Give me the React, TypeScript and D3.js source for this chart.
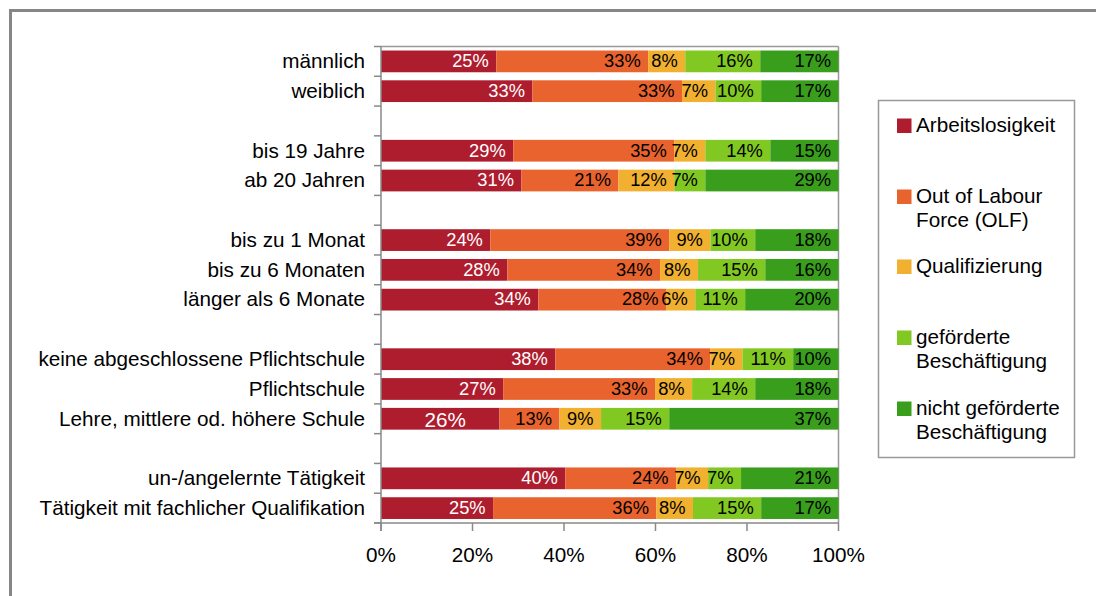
import React from "react";
import * as d3 from "d3";

const categories: string[] = [
  "männlich",
  "weiblich",
  "",
  "bis 19 Jahre",
  "ab 20 Jahren",
  "",
  "bis zu 1 Monat",
  "bis zu 6 Monaten",
  "länger als 6 Monate",
  "",
  "keine abgeschlossene Pflichtschule",
  "Pflichtschule",
  "Lehre, mittlere od. höhere Schule",
  "",
  "un-/angelernte Tätigkeit",
  "Tätigkeit mit fachlicher Qualifikation",
];

const seriesNames: string[] = [
  "Arbeitslosigkeit",
  "Out of Labour Force (OLF)",
  "Qualifizierung",
  "geförderte Beschäftigung",
  "nicht geförderte Beschäftigung",
];

const legendLines: string[][] = [
  ["Arbeitslosigkeit"],
  ["Out of Labour", "Force (OLF)"],
  ["Qualifizierung"],
  ["geförderte", "Beschäftigung"],
  ["nicht geförderte", "Beschäftigung"],
];

const colors: string[] = ["#AE1D2E", "#E8632D", "#F1B02F", "#82C823", "#389E1C"];

// values in percent per series (null = empty slot)
const arbeitslosigkeit: (number | null)[] = [25.2, 33.1, null, 28.9, 30.7, null, 23.9, 27.6, 34.4, null, 38.1, 26.7, 25.9, null, 40.3, 24.5];
const olf: (number | null)[] = [33.2, 32.7, null, 35.2, 21.2, null, 39.1, 33.4, 27.9, null, 33.9, 33.2, 13.1, null, 24.2, 35.7];
const qualifizierung: (number | null)[] = [8.1, 7.3, null, 6.8, 12.2, null, 9.0, 8.3, 6.4, null, 7.0, 8.1, 9.1, null, 7.0, 8.0];
const gefoerdert: (number | null)[] = [16.4, 10.0, null, 14.2, 6.8, null, 9.8, 14.7, 10.9, null, 11.1, 13.8, 14.9, null, 7.2, 14.9];
const nichtGefoerdert: (number | null)[] = [17.1, 16.9, null, 14.9, 29.1, null, 18.2, 16.0, 20.4, null, 9.9, 18.2, 37.0, null, 21.3, 16.9];

// displayed labels
const labelsArbeitslosigkeit: string[] = ["25%", "33%", "", "29%", "31%", "", "24%", "28%", "34%", "", "38%", "27%", "26%", "", "40%", "25%"];
const labelsOlf: string[] = ["33%", "33%", "", "35%", "21%", "", "39%", "34%", "28%", "", "34%", "33%", "13%", "", "24%", "36%"];
const labelsQualifizierung: string[] = ["8%", "7%", "", "7%", "12%", "", "9%", "8%", "6%", "", "7%", "8%", "9%", "", "7%", "8%"];
const labelsGefoerdert: string[] = ["16%", "10%", "", "14%", "7%", "", "10%", "15%", "11%", "", "11%", "14%", "15%", "", "7%", "15%"];
const labelsNichtGefoerdert: string[] = ["17%", "17%", "", "15%", "29%", "", "18%", "16%", "20%", "", "10%", "18%", "37%", "", "21%", "17%"];

const xTicks: number[] = [0, 20, 40, 60, 80, 100];

const FONT = "'Liberation Sans', Arial, sans-serif";

export default function App() {
  const seriesValues = [arbeitslosigkeit, olf, qualifizierung, gefoerdert, nichtGefoerdert];
  const seriesLabels = [labelsArbeitslosigkeit, labelsOlf, labelsQualifizierung, labelsGefoerdert, labelsNichtGefoerdert];

  const left = 381;
  const right = 838.5;
  const top = 46.5;
  const bottom = 523;

  const slots = categories.map((_, i) => String(i));
  const x = d3.scaleLinear().domain([0, 100]).range([left, right]);
  const y = d3.scaleBand<string>().domain(slots).range([top, bottom]).paddingInner(0.27).paddingOuter(0.135);

  const rows = categories.map((c, i) => {
    const vals = seriesValues.map((s) => s[i]);
    const hasData = vals.every((v) => v !== null);
    const total = hasData ? d3.sum(vals as number[]) : 0;
    let acc = 0;
    const segs = hasData
      ? (vals as number[]).map((v, k) => {
          const x0 = (acc / total) * 100;
          acc += v;
          const x1 = (acc / total) * 100;
          return { k, x0, x1, label: seriesLabels[k][i] };
        })
      : [];
    return { c, i, segs };
  });

  const tickYs = d3.range(slots.length + 1).map((j) => top + (j * (bottom - top)) / slots.length);

  const legendX = 878.5;
  const legendY = 100.5;
  const legendW = 196;
  const legendH = 357;
  const legendFirstBaselines = [132, 203, 273, 344, 415];
  const lineH = 23.5;
  const FS = 20.7;

  return (
    <svg
      width={1096}
      height={596}
      style={{ position: "fixed", left: 0, top: 0, background: "#fff" }}
      fontFamily={FONT}
    >
      <rect x={0} y={0} width={1096} height={596} fill="#fff" />
      <rect x={10.5} y={10.5} width={3000} height={3000} fill="none" stroke="#868686" strokeWidth={3} />

      {/* plot border top & right */}
      <line x1={left} x2={right} y1={top} y2={top} stroke="#999" strokeWidth={1.5} />
      <line x1={right} x2={right} y1={top} y2={bottom} stroke="#999" strokeWidth={1.5} />

      {/* bars */}
      {rows.map((r) =>
        r.segs.map((s) => (
          <rect
            key={`b${r.i}-${s.k}`}
            x={x(s.x0)}
            y={y(String(r.i))}
            width={x(s.x1) - x(s.x0)}
            height={y.bandwidth()}
            fill={colors[s.k]}
          />
        ))
      )}

      {/* data labels */}
      {rows.map((r) =>
        r.segs.map((s) => {
          const cy = (y(String(r.i)) as number) + y.bandwidth() / 2;
          const special = s.k === 0 && r.c.startsWith("Lehre");
          if (special) {
            return (
              <text
                key={`l${r.i}-${s.k}`}
                x={(x(s.x0) + x(s.x1)) / 2 + 5}
                y={cy + 8.5}
                textAnchor="middle"
                fontSize={FS}
                fill="#fff"
              >
                {s.label}
              </text>
            );
          }
          return (
            <text
              key={`l${r.i}-${s.k}`}
              x={x(s.x1) - 7.5}
              y={cy + 5.8}
              textAnchor="end"
              fontSize={18.3}
              fill={s.k === 0 ? "#fff" : "#000"}
            >
              {s.label}
            </text>
          );
        })
      )}

      {/* y axis */}
      <line x1={left} x2={left} y1={top} y2={bottom + 8} stroke="#888" strokeWidth={1.5} />
      {tickYs.map((ty, j) => (
        <line key={`yt${j}`} x1={left - 7} x2={left} y1={ty} y2={ty} stroke="#888" strokeWidth={1.5} />
      ))}
      {rows.map((r) =>
        r.c ? (
          <text
            key={`c${r.i}`}
            x={365}
            y={(y(String(r.i)) as number) + y.bandwidth() / 2 + 6.8}
            textAnchor="end"
            fontSize={FS}
            fill="#000"
          >
            {r.c}
          </text>
        ) : null
      )}

      {/* x axis */}
      <line x1={left - 7} x2={right} y1={bottom} y2={bottom} stroke="#888" strokeWidth={1.5} />
      {xTicks.map((t) => (
        <g key={`xt${t}`}>
          <line x1={x(t)} x2={x(t)} y1={bottom} y2={bottom + 8} stroke="#888" strokeWidth={1.5} />
          <text x={x(t)} y={562} textAnchor="middle" fontSize={FS} fill="#000">
            {`${t}%`}
          </text>
        </g>
      ))}

      {/* legend */}
      <rect x={legendX} y={legendY} width={legendW} height={legendH} fill="#fff" stroke="#999" strokeWidth={1.5} />
      {seriesNames.map((name, k) => {
        const b = legendFirstBaselines[k];
        return (
          <g key={`lg${k}`}>
            <title>{name}</title>
            <rect x={897} y={b - 13.5} width={14.5} height={14.5} fill={colors[k]} />
            {legendLines[k].map((ln, li) => (
              <text key={li} x={916} y={b + li * lineH} fontSize={FS} fill="#000">
                {ln}
              </text>
            ))}
          </g>
        );
      })}
    </svg>
  );
}
